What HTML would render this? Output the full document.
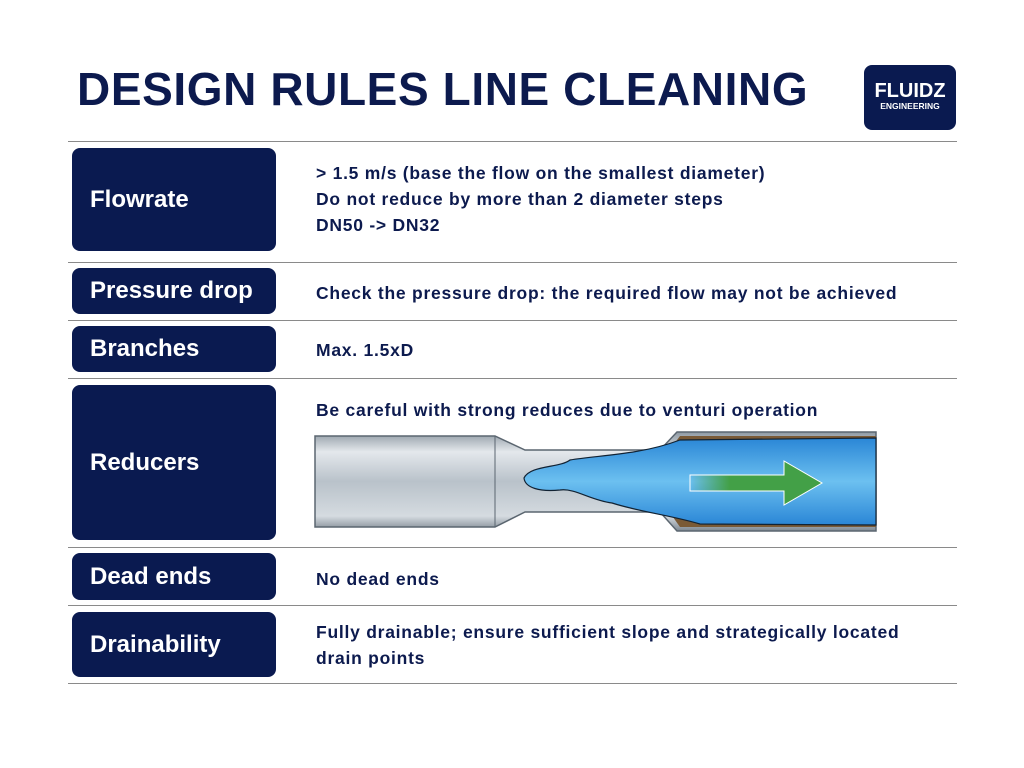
<!DOCTYPE html>
<html><head><style>
body{margin:0;width:1024px;height:768px;background:#fff;position:relative;font-family:"Liberation Sans",sans-serif;overflow:hidden;color:#0c1a4e}
.t{position:absolute;left:77px;top:62px;font-size:46px;font-weight:bold;letter-spacing:0.6px;color:#0c1a4e}
.hr{position:absolute;left:68px;width:889px;height:1px;background:#8a8a8a}
.b{position:absolute;left:72px;width:204px;background:#0a1a50;border-radius:8px;color:#fff;font-weight:bold;font-size:24px;display:flex;align-items:center;padding-left:18px;box-sizing:border-box}
.x{position:absolute;left:316px;font-size:17.5px;letter-spacing:0.75px;font-weight:bold;line-height:26px;color:#0c1a4e}
.logo{position:absolute;left:864px;top:65px;width:92px;height:65px;background:#0a1a50;border-radius:8px;color:#fff;text-align:center;font-weight:bold}
</style></head><body>
<div class="t">DESIGN RULES LINE CLEANING</div>
<div class="logo"><div style="font-size:20px;margin-top:16px;line-height:20px">FLUIDZ</div><div style="font-size:8.5px;line-height:10px">ENGINEERING</div></div>
<div class="hr" style="top:141px"></div>
<div class="hr" style="top:262px"></div>
<div class="hr" style="top:320px"></div>
<div class="hr" style="top:378px"></div>
<div class="hr" style="top:547px"></div>
<div class="hr" style="top:605px"></div>
<div class="hr" style="top:683px"></div>
<div class="b" style="top:148px;height:103px">Flowrate</div>
<div class="b" style="top:268px;height:46px">Pressure drop</div>
<div class="b" style="top:326px;height:46px">Branches</div>
<div class="b" style="top:385px;height:155px">Reducers</div>
<div class="b" style="top:553px;height:47px">Dead ends</div>
<div class="b" style="top:612px;height:65px">Drainability</div>
<div class="x" style="top:160px">&gt; 1.5 m/s (base the flow on the smallest diameter)<br>Do not reduce by more than 2 diameter steps<br>DN50 -&gt; DN32</div>
<div class="x" style="top:280px">Check the pressure drop: the required flow may not be achieved</div>
<div class="x" style="top:337px">Max. 1.5xD</div>
<div class="x" style="top:397px">Be careful with strong reduces due to venturi operation</div>
<div class="x" style="top:566px">No dead ends</div>
<div class="x" style="top:619px">Fully drainable; ensure sufficient slope and strategically located<br>drain points</div>
<svg style="position:absolute;left:0;top:0" width="1024" height="768">
<defs>
<linearGradient id="g" x1="0" y1="0" x2="0" y2="1"><stop offset="0" stop-color="#8e99a3"/><stop offset="0.2" stop-color="#e4e8ec"/><stop offset="0.5" stop-color="#b9c2ca"/><stop offset="0.85" stop-color="#d5dbe0"/><stop offset="1" stop-color="#7d8791"/></linearGradient>
<linearGradient id="w" x1="0" y1="0" x2="0" y2="1"><stop offset="0" stop-color="#2a86d6"/><stop offset="0.5" stop-color="#6cc0f0"/><stop offset="1" stop-color="#2a86d6"/></linearGradient>
<linearGradient id="ar" x1="0" x2="1"><stop offset="0" stop-color="#43a047" stop-opacity="0"/><stop offset="0.3" stop-color="#43a047"/></linearGradient>
</defs>
<path d="M315 436 H495 L525 450 H660 L677 432 H876 V531 H677 L660 512 H525 L495 527 H315 Z" fill="url(#g)" stroke="#5b6670" stroke-width="1.5"/>
<path d="M680 436 H876 V527 H680 L668 510 L668 452 Z" fill="#7a5a36"/>
<path d="M524 478 C530 465 560 468 570 460 C600 455 640 455 680 440 L876 438 V525 L700 524 C670 515 640 512 612 503 C590 500 575 488 560 490 C540 492 525 488 524 478 Z" fill="url(#w)" stroke="#123" stroke-width="1.2"/>
<path d="M690 475 H784 V461 L822 483 L784 505 V491 H690 Z" fill="url(#ar)" stroke="#fff" stroke-width="1"/>
<line x1="495" y1="436" x2="495" y2="527" stroke="#5b6670"/>
</svg>
</body></html>
